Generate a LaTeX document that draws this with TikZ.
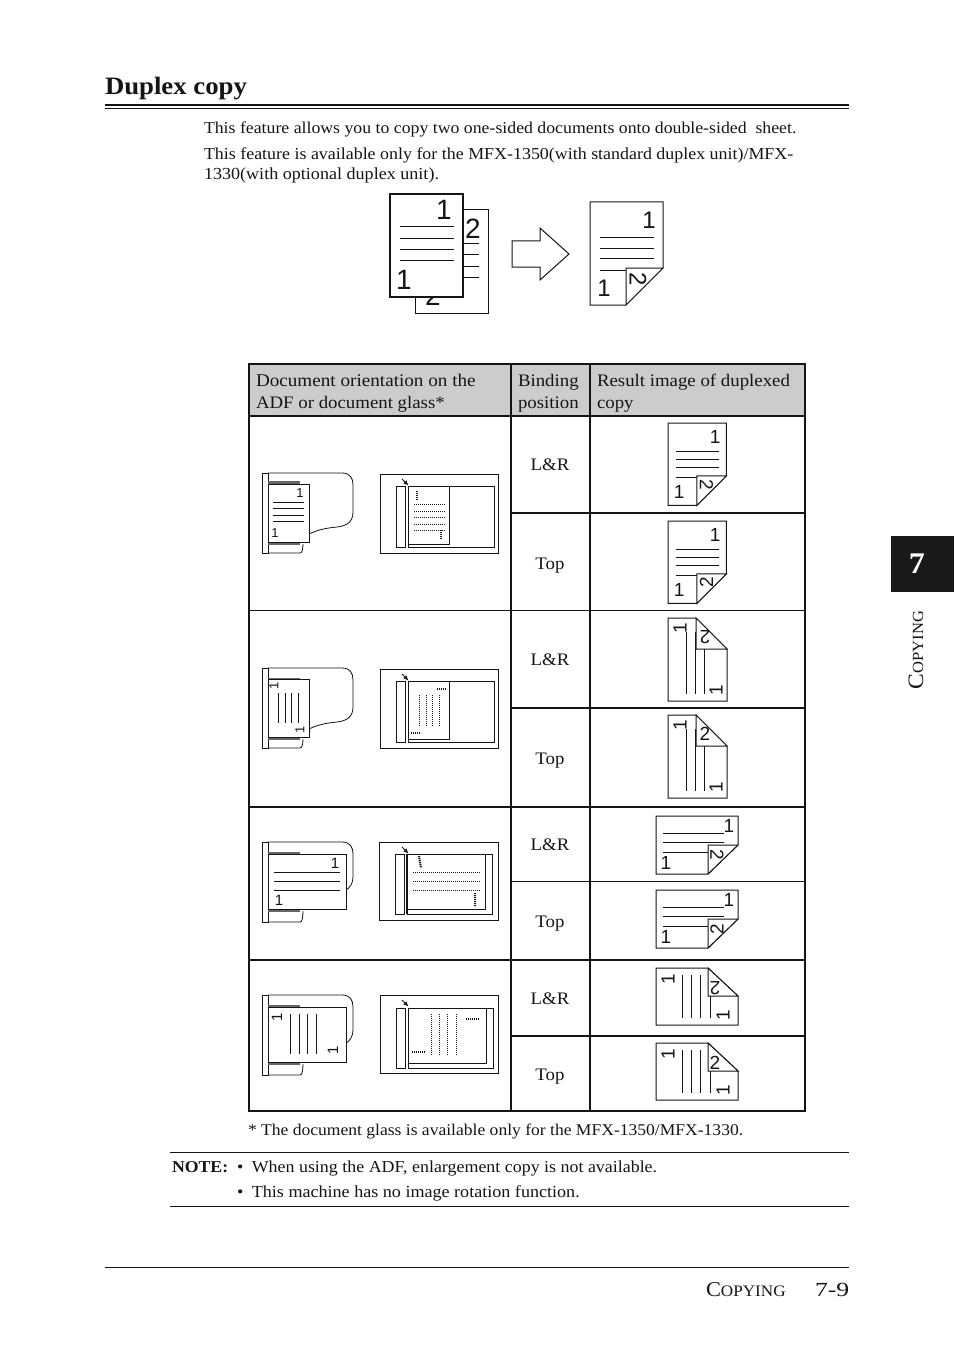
\documentclass[tikz,border=0pt]{standalone}
\usepackage{fontspec}
\setmainfont{Liberation Serif}[FakeStretch=1.07]
\newfontfamily\digitfont{Liberation Sans}
\definecolor{ink}{HTML}{151515}
\usetikzlibrary{arrows.meta}
\tikzset{
  txt/.style={anchor=base west,inner sep=0pt,outer sep=0pt,text=ink,font=\fontsize{16.6}{20}\selectfont},
  ttxt/.style={txt,font=\fontsize{17.6}{20}\selectfont},
  ctxt/.style={ttxt,anchor=base},
  ln/.style={draw=ink,line width=0.8pt},
  pg/.style={draw=ink,line width=1pt,fill=white,line join=miter},
  tbl/.style={draw=ink,line width=1.5pt},
  tblthin/.style={draw=ink,line width=0.7pt},
  dots/.style={draw=ink,line width=1pt,dash pattern=on 1pt off 1pt},
  squig/.style={draw=ink,line width=2pt,dash pattern=on 1.2pt off 0.8pt},
  graybar/.style={fill=black!60,draw=none},
  num/.style={inner sep=0pt,outer sep=0pt,text=ink},
}
\newcommand{\dg}[6]{\node[num,rotate=#4,font=\fontsize{#5}{#5}\selectfont\digitfont] (#6) at (#1,#2) {#3};}
% portrait page with folded corner
\newcommand{\portfold}[5]{% x y scale fontsize rot
\begin{scope}[shift={(#1,#2)},scale=#3]
\draw[pg] (0,0)--(73,0)--(73,66)--(36,103)--(0,103)--cycle;
\draw[pg] (36,103)--(36,66)--(73,66)--cycle;
\draw[ln] (10,35)--(64,35) (10,46)--(64,46) (10,56)--(64,56) (10,68)--(36,68);
\dg{59}{18}{1}{0}{#4}{pa#1#2}
\dg{14}{86}{1}{0}{#4}{pb#1#2}
\dg{48}{77}{2}{#5}{#4}{pc#1#2}
\end{scope}}
\newcommand{\portflap}[3]{% x y rot
\begin{scope}[shift={(#1,#2)}]
\draw[pg] (0,0)--(28,0)--(59,31)--(59,83)--(0,83)--cycle;
\draw[pg] (28,0)--(28,31)--(59,31)--cycle;
\draw[ln] (18,14)--(18,76) (27,14)--(27,76) (36,31)--(36,76);
\dg{12}{10}{1}{90}{19}{qa#1#2}
\dg{48}{72}{1}{90}{19}{qb#1#2}
\dg{37}{19}{2}{#3}{19}{qc#1#2}
\end{scope}}
\newcommand{\landfold}[3]{% x y rot
\begin{scope}[shift={(#1,#2)}]
\draw[pg] (0,0)--(82,0)--(82,29)--(52,58)--(0,58)--cycle;
\draw[pg] (52,58)--(52,29)--(82,29)--cycle;
\draw[ln] (7,17)--(68,17) (7,26)--(68,26) (7,36)--(52,36);
\dg{73}{10}{1}{0}{19}{ra#1#2}
\dg{10}{47}{1}{0}{19}{rb#1#2}
\dg{61}{39}{2}{#3}{19}{rc#1#2}
\end{scope}}
\newcommand{\landflap}[3]{% x y rot
\begin{scope}[shift={(#1,#2)}]
\draw[pg] (0,0)--(52,0)--(82,28)--(82,57)--(0,57)--cycle;
\draw[pg] (52,0)--(52,28)--(82,28)--cycle;
\draw[ln] (26,7)--(26,50) (35,7)--(35,50) (44,7)--(44,50) (54,28)--(54,50);
\dg{12}{11}{1}{90}{19}{sa#1#2}
\dg{67}{47}{1}{90}{19}{sb#1#2}
\dg{59}{20}{2}{#3}{19}{sc#1#2}
\end{scope}}
% ADF shells; #3 = top of the upper bar
\newcommand{\adftall}[3]{%
\begin{scope}[shift={(#1,#2)}]
\draw[ln,fill=white] (0,1) rectangle (6,81);
\draw[ln] (6,1)--(80,1) .. controls (88,1) and (91,6) .. (91,13)--(91,40) .. controls (91,52) and (82,54) .. (75,55) .. controls (64,56) and (55,58) .. (47,62);
\draw[ln] (6,81)--(38,81) .. controls (40,81) and (41,77) .. (41,72);
\fill[graybar] (6,#3) rectangle (38,12);
\fill[graybar] (6,70) rectangle (38,73);
\draw[pg] (6,12) rectangle (47,70);
\end{scope}}
\newcommand{\adfwide}[2]{%
\begin{scope}[shift={(#1,#2)}]
\draw[ln,fill=white] (0,1) rectangle (6,81);
\draw[ln] (6,1)--(80,1) .. controls (88,1) and (91,6) .. (91,13)--(91,36) .. controls (91,42) and (88,47) .. (84,49);
\draw[ln] (6,81)--(38,81) .. controls (40,81) and (41,77) .. (41,70);
\fill[graybar] (6,10.5) rectangle (38,13);
\fill[graybar] (6,68) rectangle (38,71);
\draw[pg] (6,13) rectangle (84,68);
\end{scope}}
\newcommand{\glassarrow}[2]{\draw[draw=ink,line width=0.8pt,-{Latex[length=5pt,width=4.5pt]}] (#1,#2)--++(6.5,6.5);}
\begin{document}
\begin{tikzpicture}[x=1pt,y=-1pt]
\useasboundingbox (0,0) rectangle (954,1348);
\fill[white] (0,0) rectangle (954,1348);
% heading
\node[txt,font=\fontsize{25}{28}\selectfont\bfseries] (title) at (105,94.5) {Duplex copy};
\draw[ink,line width=1.6pt] (105,104.8)--(849,104.8);
\draw[ink,line width=0.7pt] (105,108.2)--(849,108.2);
% intro
\node[txt] (p1) at (204,133.5) {This feature allows you to copy two one-sided documents onto double-sided\ \ sheet.};
\node[txt,font=\fontsize{16.75}{20}\selectfont] (p2) at (204,159.5) {This feature is available only for the MFX-1350(with standard duplex unit)/MFX-};
\node[txt,font=\fontsize{16.9}{20}\selectfont] (p3) at (204,179.5) {1330(with optional duplex unit).};
% top figure
\draw[pg] (415,210) rectangle (488,313);
\dg{473}{229}{2}{0}{28}{backtwo}
\dg{433}{296}{2}{0}{28}{backtwob}
\draw[ln] (463,243)--(479,243) (463,254)--(479,254) (463,266)--(479,266) (463,277)--(479,277);
\draw[draw=ink,line width=1.6pt,fill=white] (389.7,194.3) rectangle (463,297);
\draw[ln] (400,226)--(454,226) (400,238)--(454,238) (400,249)--(454,249) (400,260)--(454,260);
\dg{444}{210}{1}{0}{28}{fronta}
\dg{404}{280}{1}{0}{28}{frontb}
\draw[pg,line join=miter] (512,241)--(540,241)--(540,228)--(569,254)--(540,280)--(540,267)--(512,267)--cycle;
\portfold{590}{202}{1}{24}{-90}
% table
\fill[black!20] (249,364) rectangle (805,416);
\draw[tbl] (249,364) rectangle (805,1111);
\draw[tbl] (249,416)--(805,416) (511,364)--(511,1111) (590,364)--(590,1111);
\draw[tbl] (511,513)--(805,513) (511,708)--(805,708) (249,807)--(805,807) (249,960)--(805,960) (511,1036)--(805,1036);
\draw[tblthin] (249,610.5)--(805,610.5) (511,881.5)--(805,881.5);
\node[ttxt,font=\fontsize{17.9}{20}\selectfont] (h1a) at (256,386) {Document orientation on the};
\node[ttxt] (h1b) at (256,408) {ADF or document glass*};
\node[ttxt] (h2a) at (518,386) {Binding};
\node[ttxt] (h2b) at (518,408) {position};
\node[ttxt] (h3a) at (597,386) {Result image of duplexed};
\node[ttxt] (h3b) at (597,408) {copy};
\node[ctxt] (b1) at (550,470.5) {L\&R};
\node[ctxt] (b2) at (550,569) {Top};
\node[ctxt] (b3) at (550,665.5) {L\&R};
\node[ctxt] (b4) at (550,764) {Top};
\node[ctxt] (b5) at (550,850.5) {L\&R};
\node[ctxt] (b6) at (550,927) {Top};
\node[ctxt] (b7) at (550,1004.5) {L\&R};
\node[ctxt] (b8) at (550,1080.5) {Top};
% results
\portfold{668}{423}{0.8}{19}{-90}
\portfold{668}{521}{0.8}{19}{90}
\portflap{668}{618}{180}
\portflap{668}{715}{0}
\landfold{656}{816}{-90}
\landfold{656}{890}{90}
\landflap{656}{968}{180}
\landflap{656}{1043}{0}
% row 1
\adftall{262}{472}{9}
\draw[ln] (273,502)--(304,502) (273,508)--(304,508) (273,515)--(304,515) (273,521)--(304,521);
\dg{300}{493}{1}{0}{13}{a1}
\dg{275}{533}{1}{0}{13}{a2}
\draw[pg] (380,474) rectangle (498,553);
\draw[pg] (396,486) rectangle (405,547);
\draw[pg] (408,486) rectangle (494,547);
\draw[pg] (408,486) rectangle (449,544);
\glassarrow{402}{479}
\foreach \y in {504,511,517,524,530} \draw[dots] (414,\y)--(445,\y);
\draw[squig] (417,491)--(417,500) (441,530)--(441,539);
% row 2
\adftall{262}{667}{11}
\draw[ln] (278,693)--(278,723) (285,693)--(285,723) (291,693)--(291,723) (298,693)--(298,723);
\dg{274}{686}{1}{90}{13}{a3}
\dg{300}{730}{1}{90}{13}{a4}
\draw[pg] (380,669) rectangle (498,748);
\draw[pg] (396,681) rectangle (405,742);
\draw[pg] (408,681) rectangle (494,742);
\draw[pg] (408,681) rectangle (449,739);
\glassarrow{402}{674}
\foreach \x in {419,426,432,439} \draw[dots] (\x,695)--(\x,726);
\draw[squig] (437,689)--(447,689) (411,733)--(421,733);
% row 3
\adfwide{262}{841}
\draw[ln] (274,872)--(340,872) (274,881)--(340,881) (274,890)--(340,890);
\dg{335}{863}{1}{0}{15}{a5}
\dg{279}{900}{1}{0}{15}{a6}
\draw[pg] (379,842) rectangle (498,920);
\draw[pg] (395,854) rectangle (404,914);
\draw[pg] (407,854) rectangle (492,914);
\draw[pg] (407,854) rectangle (485,909);
\draw[draw=ink,line width=1.6pt] (407,854)--(407,914);
\glassarrow{402}{847}
\foreach \y in {872,881,890} \draw[dots] (413,\y)--(480,\y);
\draw[squig] (419,856)--(421,868) (475,893)--(475,907);
% row 4
\adfwide{262}{994}
\draw[ln] (290,1014)--(290,1054) (299,1014)--(299,1054) (307,1014)--(307,1054) (316,1014)--(316,1054);
\dg{277}{1017}{1}{90}{15}{a7}
\dg{333}{1050}{1}{90}{15}{a8}
\draw[pg] (380,995) rectangle (498,1073);
\draw[pg] (396,1008) rectangle (405,1068);
\draw[pg] (408,1008) rectangle (493,1068);
\draw[pg] (408,1008) rectangle (486,1063);
\glassarrow{402}{1000}
\foreach \x in {431,439,447,456} \draw[dots] (\x,1014)--(\x,1055);
\draw[squig] (466,1019)--(479,1019) (412,1052)--(425,1052);
% notes
\node[txt,font=\fontsize{16.4}{20}\selectfont] (foot) at (248,1135) {* The document glass is available only for the MFX-1350/MFX-1330.};
\draw[ink,line width=0.6pt] (170,1152.5)--(849,1152.5) (170,1206.5)--(849,1206.5);
\node[txt,font=\fontsize{16.6}{20}\selectfont\bfseries] (note) at (172,1172) {NOTE:};
\node[txt,font=\fontsize{16.75}{20}\selectfont] (n1) at (237,1172) {•\hspace{8.5pt}When using the ADF, enlargement copy is not available.};
\node[txt,font=\fontsize{16.9}{20}\selectfont] (n2) at (237,1197) {•\hspace{8.5pt}This machine has no image rotation function.};
% tab
\fill[black!90] (891,536) rectangle (954,592);
\node[inner sep=0pt,text=white,font=\fontsize{30}{30}\selectfont\bfseries] (tabnum) at (917,564) {7};
\node[txt,rotate=90] (tabtxt) at (923,689) {\fontsize{22}{22}\selectfont C\fontsize{15.5}{15.5}\selectfont OPYING};
% footer
\draw[ink,line width=0.7pt] (105,1267)--(849,1267);
\node[txt] (ftxt) at (706,1296) {\fontsize{21}{21}\selectfont C\fontsize{16}{16}\selectfont OPYING};
\node[txt,font=\fontsize{20}{20}\selectfont,xscale=1.2] (fnum) at (815,1296) {7-9};
\end{tikzpicture}
\end{document}
